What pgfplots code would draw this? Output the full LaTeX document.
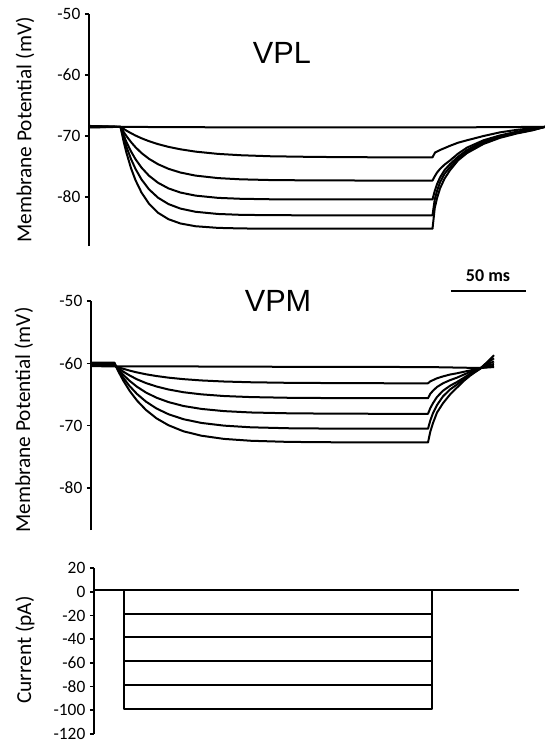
\documentclass[border=0pt]{standalone}
\usepackage{fontspec}
\setmainfont{Carlito}
\newfontfamily\titlefont{Liberation Sans}
\usepackage{pgfplots}
\pgfplotsset{compat=1.18}

\pgfplotsset{
  trace/.style={black, line width=1.5pt, line join=round, mark=none},
  panel/.style={
    scale only axis,
    anchor=north west,
    axis x line=none,
    axis y line=left,
    axis line style={-, line width=1.2pt},
    tick align=outside,
    major tick length=3pt,
    ytick style={line width=1.2pt, black},
    /pgf/number format/assume math mode=true,
    yticklabel style={font=\fontsize{13}{15}\selectfont},
    ylabel style={font=\fontsize{16}{18}\selectfont, anchor=center, rotate=0},
    title style={font=\titlefont\fontsize{23}{26}\selectfont, anchor=center},
    xmax=304,
    clip=false,
  },
}

\begin{document}
\begin{tikzpicture}
\path[use as bounding box] (0,0) rectangle (408.75pt,-558.75pt);

% ---------------- VPL ----------------
\begin{axis}[panel,
  at={(66.75pt,-10.5pt)}, width=342pt, height=174pt,
  xmin=0, ymin=-88.03, ymax=-50,
  ytick={-80,-70,-60,-50},
  ylabel={Membrane Potential (mV)},
  ylabel style={at={(axis description cs:-0.14,0.50)}},
  title={VPL},
  title style={at={(axis description cs:0.423,0.797)}},
]
\addplot[trace] coordinates {(0,-68.45) (21,-68.5) (60,-68.55) (120,-68.6) (229,-68.6) (270,-68.55) (304,-68.5)};
\addplot[trace] coordinates {(0,-68.4) (21,-68.5) (23,-68.82) (25,-69.12) (28,-69.54) (31,-69.92) (35,-70.37) (40,-70.85) (46,-71.33) (53,-71.78) (61,-72.18) (71,-72.56) (86,-72.93) (101,-73.15) (121,-73.32) (151,-73.43) (191,-73.49) (229,-73.5) (230.7,-72.7) (234,-72.3) (240.7,-71.6) (246,-71.1) (252,-70.7) (263,-70.0) (274,-69.4) (285,-69.0) (296,-68.7) (304,-68.5)};
\addplot[trace] coordinates {(0,-68.55) (21,-68.5) (23,-69.30) (25,-70.02) (28,-70.99) (31,-71.84) (35,-72.79) (40,-73.74) (46,-74.62) (53,-75.38) (61,-75.99) (71,-76.49) (86,-76.90) (101,-77.10) (121,-77.22) (151,-77.28) (191,-77.3) (229,-77.3) (230.5,-76.6) (232,-76.0) (234,-75.4) (237,-74.7) (240.7,-74.0) (246,-72.9) (252,-71.9) (263,-70.7) (274,-69.9) (285,-69.3) (296,-68.85) (304,-68.5)};
\addplot[trace] coordinates {(0,-68.35) (21,-68.5) (23,-69.82) (25,-71.00) (28,-72.52) (31,-73.80) (35,-75.18) (40,-76.51) (46,-77.66) (53,-78.59) (61,-79.27) (71,-79.77) (86,-80.14) (101,-80.29) (121,-80.37) (151,-80.4) (229,-80.4) (230.5,-79.0) (232,-77.9) (234,-76.8) (237,-75.6) (240.7,-74.6) (246,-73.4) (252,-72.3) (263,-70.9) (274,-70.0) (285,-69.4) (296,-68.9) (304,-68.5)};
\addplot[trace] coordinates {(0,-68.6) (21,-68.5) (23,-70.25) (25,-71.79) (28,-73.77) (31,-75.39) (35,-77.12) (40,-78.74) (46,-80.11) (53,-81.16) (61,-81.90) (71,-82.42) (86,-82.78) (101,-82.92) (121,-82.98) (151,-83.0) (229,-83.0) (230.5,-80.4) (232,-79.0) (234,-77.6) (237,-76.2) (240.7,-75.1) (246,-73.7) (252,-72.6) (263,-71.1) (274,-70.2) (285,-69.5) (296,-69.0) (304,-68.5)};
\addplot[trace] coordinates {(0,-68.4) (21,-68.5) (23,-70.8) (25,-72.78) (28,-75.27) (31,-77.24) (35,-79.27) (40,-81.11) (46,-82.58) (53,-83.64) (61,-84.34) (71,-84.79) (86,-85.06) (101,-85.15) (121,-85.2) (229,-85.2) (230.5,-81.8) (232,-80.2) (234,-78.6) (237,-77.0) (240.7,-75.6) (246,-74.0) (252,-72.8) (263,-71.3) (274,-70.3) (285,-69.6) (296,-69.05) (304,-68.5)};
\end{axis}

% ---------------- VPM ----------------
\begin{axis}[panel,
  at={(68.25pt,-225.75pt)}, width=340.5pt, height=171.75pt,
  xmin=1.33, ymin=-86.75, ymax=-50,
  ytick={-80,-70,-60,-50},
  ylabel={Membrane Potential (mV)},
  ylabel style={at={(axis description cs:-0.148,0.48)}},
  title={VPM},
  title style={at={(axis description cs:0.412,0.965)}},
]
\addplot[trace] coordinates {(1.33,-60.45) (18,-60.5) (60,-60.5) (120,-60.55) (226,-60.6) (260.7,-60.75) (270,-60.6)};
\addplot[trace] coordinates {(1.33,-59.9) (17,-59.9) (18,-60.5) (20,-60.66) (23,-60.89) (27,-61.16) (32,-61.46) (38,-61.76) (45,-62.04) (53,-62.30) (63,-62.54) (75,-62.75) (90,-62.92) (108,-63.04) (133,-63.13) (163,-63.17) (198,-63.2) (226,-63.2) (227.5,-62.9) (229.3,-62.7) (232,-62.4) (236,-62.1) (240.7,-61.8) (245.3,-61.6) (250,-61.35) (254,-61.15) (257.5,-60.95) (260.7,-60.8) (265,-60.6) (270,-60.4)};
\addplot[trace] coordinates {(1.33,-60.0) (17,-60.0) (18,-60.5) (20,-60.86) (23,-61.36) (27,-61.94) (32,-62.57) (38,-63.17) (45,-63.72) (53,-64.20) (63,-64.64) (75,-64.98) (90,-65.25) (108,-65.42) (133,-65.53) (163,-65.58) (198,-65.6) (226,-65.6) (227.5,-64.9) (229.3,-64.4) (232,-63.8) (236,-63.2) (240.7,-62.7) (245.3,-62.3) (250,-61.8) (254,-61.4) (257.5,-61.1) (260.7,-60.8) (265,-60.4) (270,-60.1)};
\addplot[trace] coordinates {(1.33,-60.1) (17,-60.1) (18,-60.5) (20,-61.09) (23,-61.88) (27,-62.80) (32,-63.76) (38,-64.69) (45,-65.52) (53,-66.22) (63,-66.85) (75,-67.32) (90,-67.67) (108,-67.89) (133,-68.02) (163,-68.08) (198,-68.1) (226,-68.1) (227.5,-67.2) (229.3,-66.4) (232,-65.4) (236,-64.4) (240.7,-63.6) (245.3,-63.0) (250,-62.3) (254,-61.7) (257.5,-61.2) (260.7,-60.8) (265,-60.2) (270,-59.7)};
\addplot[trace] coordinates {(1.33,-60.2) (17,-60.2) (18,-60.5) (20,-61.30) (23,-62.38) (27,-63.63) (32,-64.92) (38,-66.15) (45,-67.25) (53,-68.17) (63,-68.97) (75,-69.57) (90,-70.00) (108,-70.27) (133,-70.42) (163,-70.48) (198,-70.5) (226,-70.5) (227.5,-69.2) (229.3,-68.0) (232,-66.7) (236,-65.3) (240.7,-64.2) (245.3,-63.4) (250,-62.5) (254,-61.8) (257.5,-61.3) (260.7,-60.85) (265,-60.0) (270,-59.2)};
\addplot[trace] coordinates {(1.33,-60.3) (17,-60.3) (18,-60.5) (20,-61.50) (23,-62.84) (27,-64.38) (32,-65.98) (38,-67.49) (45,-68.83) (53,-69.94) (63,-70.91) (75,-71.62) (90,-72.13) (108,-72.43) (133,-72.61) (163,-72.67) (198,-72.7) (226,-72.7) (227.5,-71.0) (229.3,-69.6) (232,-67.9) (236,-66.4) (240.7,-65.0) (245.3,-63.9) (250,-62.8) (254,-62.0) (257.5,-61.4) (260.7,-60.9) (265,-59.9) (270,-58.7)};
% scale bar
\draw[line width=2pt] (axis cs:241.3,-48.4) -- (axis cs:291.3,-48.4);
\node[font=\bfseries\fontsize{13.5}{15}\selectfont] at (axis cs:266,-45.9) {50 ms};
\end{axis}

% ---------------- Current ----------------
\begin{axis}[panel,
  at={(70.5pt,-426pt)}, width=338.25pt, height=124.5pt,
  xmin=3.33, ymin=-120, ymax=20,
  ytick={-120,-100,-80,-60,-40,-20,0,20},
  ylabel={Current (pA)},
  ylabel style={at={(axis description cs:-0.153,0.506)}},
]
\addplot[trace] coordinates {(3.33,1.5) (286.7,1.5)};
\addplot[trace] coordinates {(3.33,1.5) (23.3,1.5) (23.3,-18.5) (228.7,-18.5) (228.7,1.5) (286.7,1.5)};
\addplot[trace] coordinates {(3.33,1.5) (23.3,1.5) (23.3,-38.5) (228.7,-38.5) (228.7,1.5) (286.7,1.5)};
\addplot[trace] coordinates {(3.33,1.5) (23.3,1.5) (23.3,-58.5) (228.7,-58.5) (228.7,1.5) (286.7,1.5)};
\addplot[trace] coordinates {(3.33,1.5) (23.3,1.5) (23.3,-79) (228.7,-79) (228.7,1.5) (286.7,1.5)};
\addplot[trace] coordinates {(3.33,1.5) (23.3,1.5) (23.3,-99) (228.7,-99) (228.7,1.5) (286.7,1.5)};
\end{axis}
\end{tikzpicture}
\end{document}
